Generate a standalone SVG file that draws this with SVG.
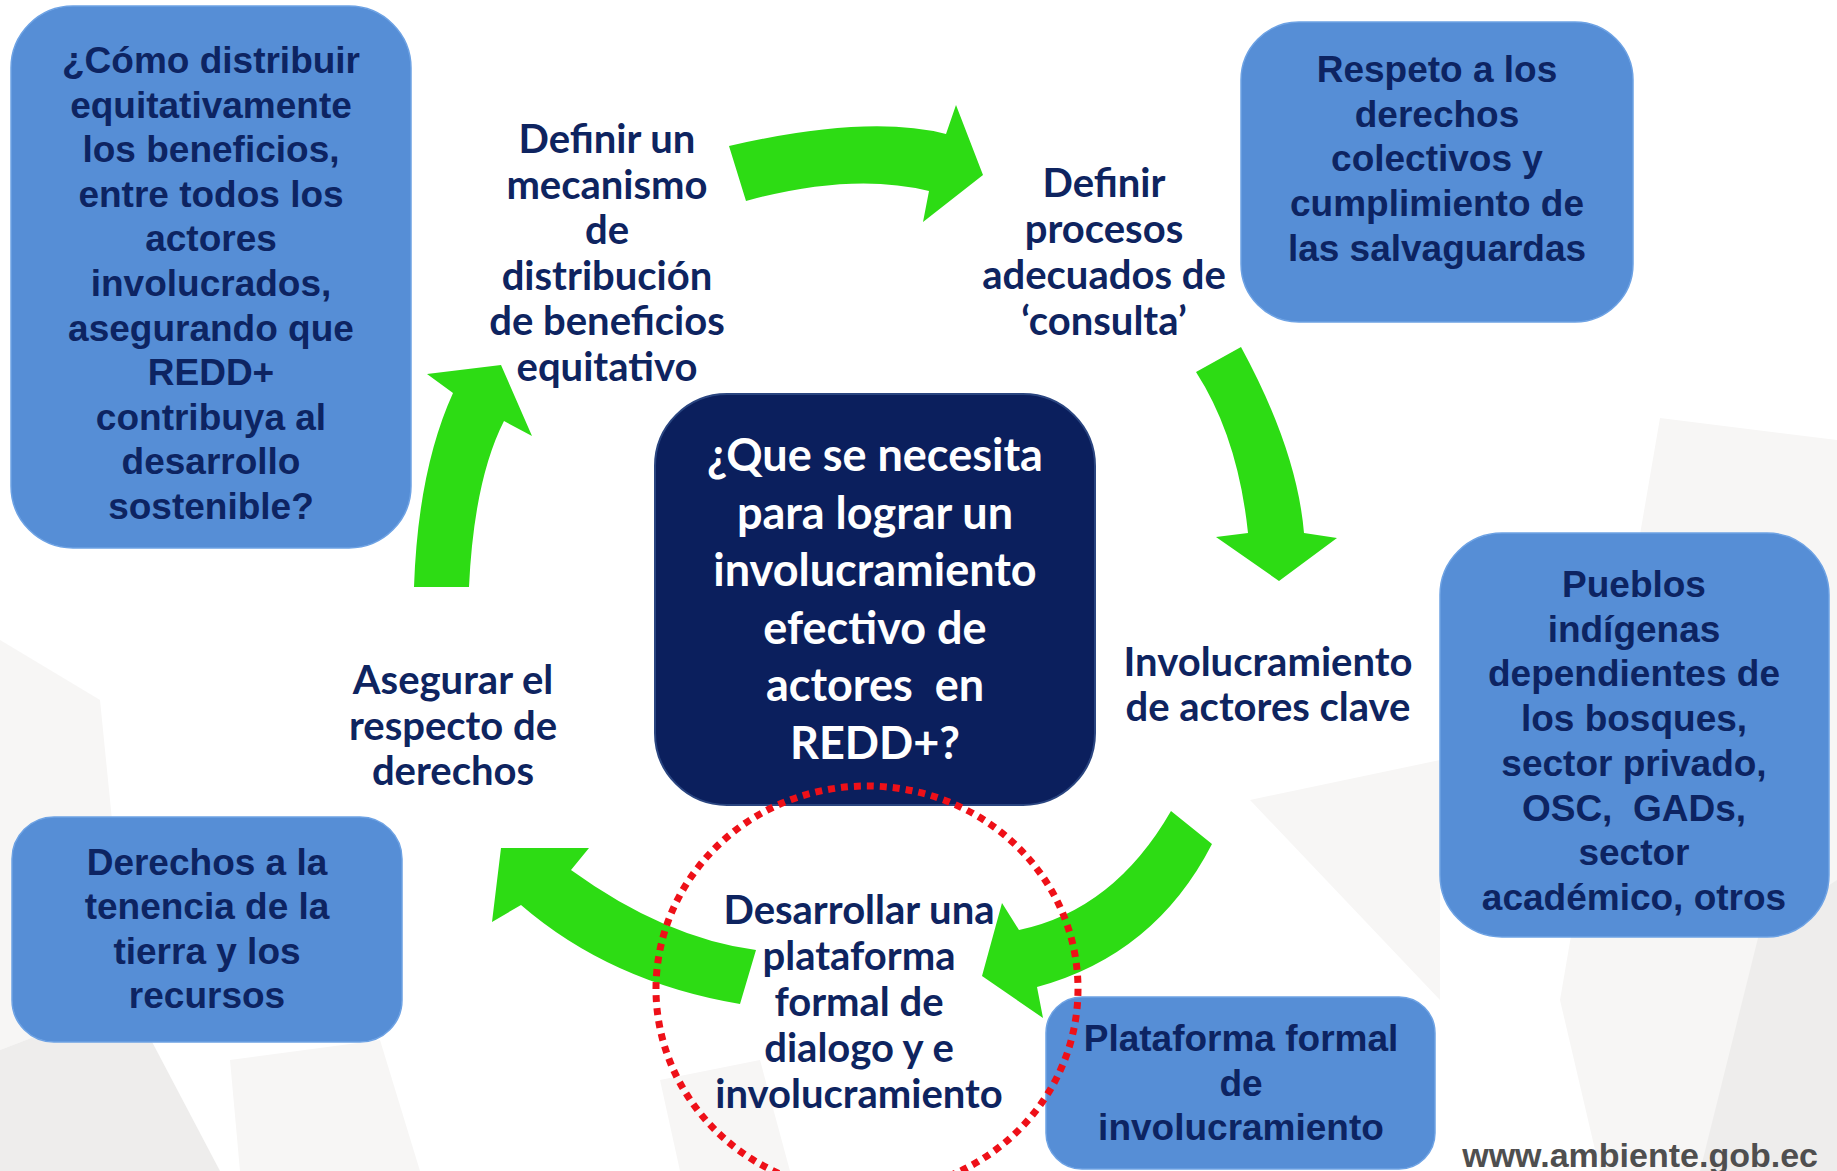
<svg xmlns="http://www.w3.org/2000/svg" width="1837" height="1171" viewBox="0 0 1837 1171">
<defs>
<style>
.box{fill:#568ed6;stroke:#6da2e4;stroke-width:1.5}
.btx{font-family:"Liberation Sans",Arial,sans-serif;font-weight:bold;font-size:37px;fill:#0d2462;text-anchor:middle}
.lbl{font-family:Lato,"Open Sans",sans-serif;font-weight:bold;font-size:40px;fill:#0e2460;text-anchor:middle}
.ctx{font-family:Lato,"Open Sans",sans-serif;font-weight:bold;font-size:45px;fill:#ffffff;text-anchor:middle}
.arr{fill:#2ddc14}
.bg1{fill:#f7f6f5}
.bg2{fill:#eeedec}
</style>
</defs>
<rect x="0" y="0" width="1837" height="1171" fill="#ffffff"/>
<g id="background">
<path class="bg1" d="M0,640 L100,700 L130,1000 L0,1050 Z"/>
<path class="bg2" d="M0,1050 L130,1000 L220,1171 L0,1171 Z"/>
<path class="bg1" d="M230,1060 L380,1040 L420,1171 L240,1171 Z"/>
<path class="bg1" d="M660,1080 L760,1060 L790,1171 L680,1171 Z"/>
<path class="bg1" d="M1660,418 L1837,440 L1837,1171 L1600,1171 L1560,1000 Z"/>
<path class="bg1" d="M1250,800 L1440,760 L1440,1000 Z"/>
<path class="bg2" d="M1760,930 L1837,880 L1837,1171 L1700,1171 Z"/>
</g>
<g id="connectors">
<path class="arr" d="M729,146 Q868,114 946,134 L956,105 L983,175 L923,222 L929,191 Q852,172 746,201 Z"/>
<path class="arr" d="M1241,347 Q1297,450 1304,533 L1337,538 L1279,581 L1216,537 L1248,533 Q1238,437 1196,372 Z"/>
<path class="arr" d="M1171,811 Q1114,910 1019,930 L1002,903 L982,976 L1043,1018 L1037,987 Q1155,955 1212,844 Z"/>
<path class="arr" d="M740,1004 Q610,982 521,905 L492,922 L501,848 L589,848 L571,870 Q665,938 756,950 Z"/>
<path class="arr" d="M414,587 Q418,470 453,393 L427,374 L501,365 L532,436 L504,421 Q474,480 469,587 Z"/>
</g>
<g id="node-distribuir">
<rect class="box" x="11" y="6" width="400" height="542" rx="62"/>
<text class="btx" x="211" y="73">¿Cómo distribuir<tspan x="211" dy="44.6">equitativamente</tspan><tspan x="211" dy="44.6">los beneficios,</tspan><tspan x="211" dy="44.6">entre todos los</tspan><tspan x="211" dy="44.6">actores</tspan><tspan x="211" dy="44.6">involucrados,</tspan><tspan x="211" dy="44.6">asegurando que</tspan><tspan x="211" dy="44.6">REDD+</tspan><tspan x="211" dy="44.6">contribuya al</tspan><tspan x="211" dy="44.6">desarrollo</tspan><tspan x="211" dy="44.6">sostenible?</tspan></text>
</g>
<g id="node-respeto">
<rect class="box" x="1241" y="22" width="392" height="300" rx="58"/>
<text class="btx" x="1437" y="82">Respeto a los<tspan x="1437" dy="44.7">derechos</tspan><tspan x="1437" dy="44.7">colectivos y</tspan><tspan x="1437" dy="44.7">cumplimiento de</tspan><tspan x="1437" dy="44.7">las salvaguardas</tspan></text>
</g>
<g id="node-pueblos">
<rect class="box" x="1440" y="533" width="389" height="404" rx="62"/>
<text class="btx" x="1634" y="597" xml:space="preserve">Pueblos<tspan x="1634" dy="44.7">indígenas</tspan><tspan x="1634" dy="44.7">dependientes de</tspan><tspan x="1634" dy="44.7">los bosques,</tspan><tspan x="1634" dy="44.7">sector privado,</tspan><tspan x="1634" dy="44.7">OSC,  GADs,</tspan><tspan x="1634" dy="44.7">sector</tspan><tspan x="1634" dy="44.7">académico, otros</tspan></text>
</g>
<g id="node-tenencia">
<rect class="box" x="12" y="817" width="390" height="225" rx="42"/>
<text class="btx" x="207" y="875">Derechos a la<tspan x="207" dy="44.4">tenencia de la</tspan><tspan x="207" dy="44.4">tierra y los</tspan><tspan x="207" dy="44.4">recursos</tspan></text>
</g>
<g id="node-plataforma">
<rect class="box" x="1046" y="997" width="389" height="172" rx="36"/>
<text class="btx" x="1241" y="1051">Plataforma formal<tspan x="1241" dy="44.5">de</tspan><tspan x="1241" dy="44.5">involucramiento</tspan></text>
</g>
<g id="node-center">
<rect x="655" y="394" width="440" height="411" rx="72" fill="#0b1f5d" stroke="#2a4580" stroke-width="2"/>
<text class="ctx" x="875" y="471" xml:space="preserve">¿Que se necesita<tspan x="875" dy="57.6">para lograr un</tspan><tspan x="875" dy="57.6">involucramiento</tspan><tspan x="875" dy="57.6">efectivo de</tspan><tspan x="875" dy="57.6">actores  en</tspan><tspan x="875" dy="57.6">REDD+?</tspan></text>
</g>
<g id="label-mecanismo">
<text class="lbl" x="607" y="153">Definir un<tspan x="607" dy="45.5">mecanismo</tspan><tspan x="607" dy="45.5">de</tspan><tspan x="607" dy="45.5">distribución</tspan><tspan x="607" dy="45.5">de beneficios</tspan><tspan x="607" dy="45.5">equitativo</tspan></text>
</g>
<g id="label-consulta">
<text class="lbl" x="1104" y="197">Definir<tspan x="1104" dy="46">procesos</tspan><tspan x="1104" dy="46">adecuados de</tspan><tspan x="1104" dy="46">‘consulta’</tspan></text>
</g>
<g id="label-involucramiento">
<text class="lbl" x="1268" y="676">Involucramiento<tspan x="1268" dy="45">de actores clave</tspan></text>
</g>
<g id="label-asegurar">
<text class="lbl" x="453" y="694">Asegurar el<tspan x="453" dy="45.5">respecto de</tspan><tspan x="453" dy="45.5">derechos</tspan></text>
</g>
<g id="label-desarrollar">
<text class="lbl" x="859" y="924">Desarrollar una<tspan x="859" dy="46">plataforma</tspan><tspan x="859" dy="46">formal de</tspan><tspan x="859" dy="46">dialogo y e</tspan><tspan x="859" dy="46">involucramiento</tspan></text>
</g>
<g id="highlight">
<ellipse cx="867" cy="989" rx="211" ry="203" fill="none" stroke="#ee1018" stroke-width="7" stroke-dasharray="7 6"/>
</g>
<text x="1818" y="1167" font-family="Liberation Sans,Arial,sans-serif" font-weight="bold" font-size="34" fill="#4f4f4f" text-anchor="end">www.ambiente.gob.ec</text>
</svg>
